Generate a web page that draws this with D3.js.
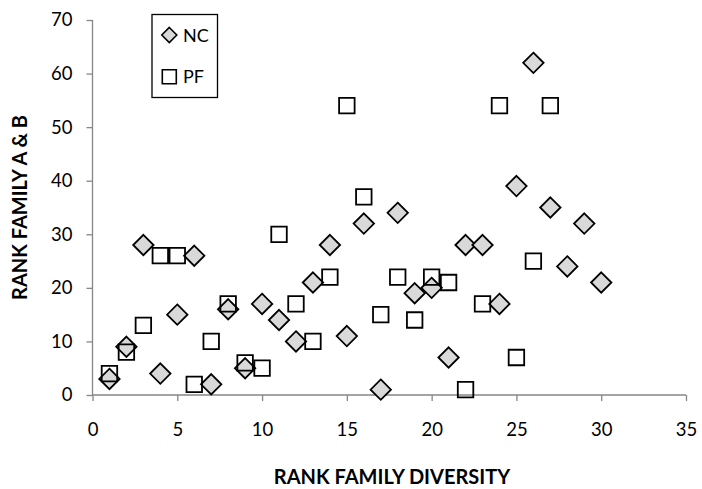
<!DOCTYPE html>
<html>
<head>
<meta charset="utf-8">
<script src="https://cdn.jsdelivr.net/npm/d3@7"></script>
<style>
  html, body { margin: 0; padding: 0; background: #fff; }
  svg { display: block; }
</style>
</head>
<body>
<svg id="chart" width="702" height="489"></svg>
<script>
// ---- data ----
const ncX = [1,2,3,4,5,6,7,8,9,10,11,12,13,14,15,16,17,18,19,20,21,22,23,24,25,26,27,28,29,30];
const ncY = [3,9,28,4,15,26,2,16,5,17,14,10,21,28,11,32,1,34,19,20,7,28,28,17,39,62,35,24,32,21];
const pfX = [1,2,3,4,5,6,7,8,9,10,11,12,13,14,15,16,17,18,19,20,21,22,23,24,25,26,27];
const pfY = [4,8,13,26,26,2,10,17,6,5,30,17,10,22,54,37,15,22,14,22,21,1,17,54,7,25,54];
const xTicks = [0,5,10,15,20,25,30,35];
const yTicks = [0,10,20,30,40,50,60,70];
const seriesNames = ["NC", "PF"];
const xTitle = "RANK FAMILY DIVERSITY";
const yTitle = "RANK FAMILY A & B";

// ---- layout ----
const FONT = "Lato, 'Open Sans', sans-serif";
const AXIS_COLOR = "#868686";
const svg = d3.select("#chart");
const x = d3.scaleLinear().domain([0, 35]).range([92.5, 686]);
const y = d3.scaleLinear().domain([0, 70]).range([395, 20]);

// axes
const gx = svg.append("g").attr("transform", `translate(0,${y(0)})`)
  .call(d3.axisBottom(x).tickValues(xTicks).tickSize(6).tickPadding(22).tickFormat(d3.format("d")));
const gy = svg.append("g").attr("transform", `translate(${x(0)},0)`)
  .call(d3.axisLeft(y).tickValues(yTicks).tickSize(6).tickPadding(14).tickFormat(d3.format("d")));
[gx, gy].forEach(g => {
  g.select(".domain").attr("stroke", AXIS_COLOR).attr("stroke-width", 1.3);
  g.selectAll(".tick line").attr("stroke", AXIS_COLOR).attr("stroke-width", 1.3);
  g.selectAll(".tick text").attr("fill", "#000").style("font-family", FONT).style("font-size", "18.5px");
});
// remove outer tick stubs of domain path
gx.select(".domain").attr("d", `M${x(0)},0H${x(35)}`);
gy.select(".domain").attr("d", `M0,${y(0)}V${y(70)}`);

// axis titles
svg.append("text").attr("x", 392).attr("y", 484)
  .attr("text-anchor", "middle").style("font-family", FONT).style("font-weight", "bold")
  .style("font-size", "20px").text(xTitle);
svg.append("text").attr("transform", "translate(27,207.5) rotate(-90)")
  .attr("text-anchor", "middle").style("font-family", FONT).style("font-weight", "bold")
  .style("font-size", "20px").text(yTitle);

// markers
const diamond = r => `M0,${-r}L${r},0L0,${r}L${-r},0Z`;
const square = s => `M${-s/2},${-s/2}h${s}v${s}h${-s}Z`;

svg.append("g").selectAll("path").data(ncX.map((d, i) => [d, ncY[i]])).join("path")
  .attr("transform", d => `translate(${x(d[0])},${y(d[1])})`)
  .attr("d", diamond(10.2))
  .attr("fill", "#d9d9d9").attr("stroke", "#000").attr("stroke-width", 1.8);

svg.append("g").selectAll("path").data(pfX.map((d, i) => [d, pfY[i]])).join("path")
  .attr("transform", d => `translate(${x(d[0])},${y(d[1])})`)
  .attr("d", square(15.5))
  .attr("fill", "none").attr("stroke", "#000").attr("stroke-width", 1.8);

// legend
const lg = svg.append("g");
lg.append("rect").attr("x", 152).attr("y", 14.5).attr("width", 65.5).attr("height", 83)
  .attr("fill", "#fff").attr("stroke", "#000").attr("stroke-width", 1.3);
lg.append("path").attr("transform", "translate(169.3,35)").attr("d", diamond(7.5))
  .attr("fill", "#d9d9d9").attr("stroke", "#000").attr("stroke-width", 1.6);
lg.append("path").attr("transform", "translate(169.3,76.7)").attr("d", square(14))
  .attr("fill", "#fff").attr("stroke", "#000").attr("stroke-width", 1.6);
lg.append("text").attr("x", 183).attr("y", 41.5).style("font-family", FONT)
  .style("font-size", "18px").text(seriesNames[0]);
lg.append("text").attr("x", 183).attr("y", 83.2).style("font-family", FONT)
  .style("font-size", "18px").text(seriesNames[1]);
</script>
</body>
</html>
